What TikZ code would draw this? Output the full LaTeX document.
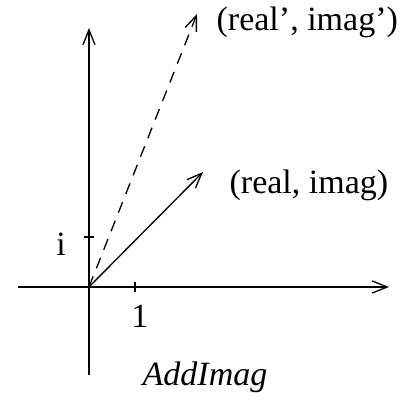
\documentclass[tikz,border=0pt]{standalone}
\usepackage{fontspec}
\setmainfont{Liberation Serif}
\usetikzlibrary{arrows.meta}

\begin{document}
\begin{tikzpicture}[x=0.3pt, y=-0.3pt, line width=0.4pt,
    vec/.style={-{Straight Barb[length=4.5pt, width=3.6pt]}},
    lbl/.style={inner sep=0pt, font=\fontsize{10.2pt}{12pt}\selectfont}]
    \useasboundingbox (0,0) rectangle (407,403);

    % axes
    \coordinate (O) at (89,287);
    \coordinate (xl) at (18,287);
    \coordinate (xr) at (389,287);
    \coordinate (yb) at (89,375);
    \coordinate (yt) at (89,28);
    \draw[vec] (xl) -- (xr);
    \draw[vec] (yb) -- (yt);

    % ticks
    \draw (135,282) -- (135,292);
    \draw (84,237) -- (94,237);
    \node[lbl] (one) at (140,316) {1};
    \node[lbl] (unit) at (61,244) {i};

    % vectors
    \node[lbl, anchor=west] (v) at (229,185) {(real, imag)};
    \node[lbl, anchor=west] (w) at (216,22) {(real', imag')};
    \coordinate (vt) at (203,172);
    \coordinate (wt) at (197,14);
    \draw[vec] (O) -- (vt);
    \draw[vec, dash pattern=on 3.4pt off 2.6pt] (O) -- (wt);

    \node[lbl, font=\fontsize{10.2pt}{12pt}\selectfont\itshape] (name) at (205,377) {AddImag};
\end{tikzpicture}
\end{document}
